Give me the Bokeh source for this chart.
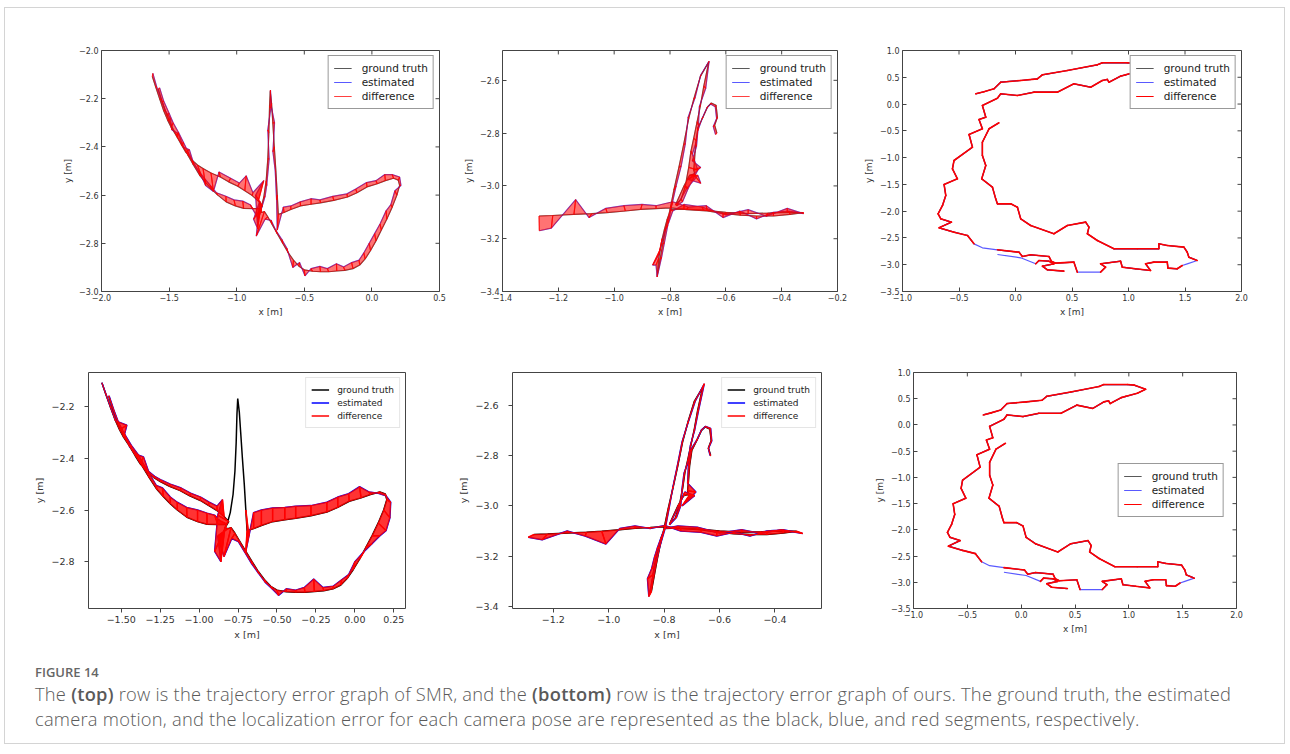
import math
from bokeh.plotting import figure
from bokeh.models import Range1d, FixedTicker, Legend, LegendItem, Div
from bokeh.layouts import row, column
from bokeh.embed import file_html
from bokeh.resources import INLINE

NAN = float("nan")

# ---------------- column 1 : ground truth (shared by plots 1 and 4) ----------------
gt1_x = [-1.624, -1.600, -1.570, -1.540, -1.510, -1.485, -1.450, -1.410, -1.378, -1.330,
         -1.290, -1.249, -1.190, -1.121, -1.060, -0.992, -0.940, -0.885, -0.840, -0.810,
         -0.825, -0.835, -0.815, -0.795, -0.770, -0.740, -0.700, -0.660, -0.620, -0.580,
         -0.540, -0.500, -0.440, -0.380, -0.320, -0.260, -0.200, -0.140, -0.090, -0.050,
         -0.010, 0.030, 0.070, 0.110, 0.150, 0.185, 0.205, 0.195, 0.160, 0.100,
         0.040, -0.036, -0.110, -0.180, -0.282, -0.380, -0.450, -0.528, -0.600, -0.650,
         -0.692, -0.700, -0.710, -0.722, -0.733, -0.742, -0.752, -0.757, -0.762, -0.770,
         -0.782, -0.800, -0.821, -0.880, -0.949, -1.010, -1.078, -1.140, -1.185, -1.230,
         -1.271, -1.320, -1.360, -1.400, -1.440, -1.480, -1.515, -1.550, -1.580]
gt1_y = [-2.108, -2.150, -2.200, -2.250, -2.290, -2.318, -2.350, -2.390, -2.421, -2.455,
         -2.475, -2.490, -2.508, -2.525, -2.545, -2.563, -2.582, -2.602, -2.625, -2.645,
         -2.660, -2.668, -2.672, -2.668, -2.690, -2.720, -2.760, -2.800, -2.838, -2.870,
         -2.895, -2.910, -2.916, -2.918, -2.918, -2.915, -2.912, -2.905, -2.890, -2.865,
         -2.830, -2.790, -2.745, -2.700, -2.650, -2.600, -2.560, -2.538, -2.530, -2.540,
         -2.553, -2.566, -2.590, -2.608, -2.622, -2.632, -2.638, -2.645, -2.660, -2.672,
         -2.680, -2.600, -2.500, -2.400, -2.300, -2.220, -2.169, -2.230, -2.340, -2.450,
         -2.540, -2.610, -2.655, -2.656, -2.655, -2.645, -2.628, -2.600, -2.576, -2.548,
         -2.520, -2.475, -2.435, -2.395, -2.360, -2.315, -2.270, -2.215, -2.160]
# estimated, SMR (plot 1)
est1_x = [-1.620, -1.592, -1.556, -1.528, -1.490, -1.478, -1.430, -1.395, -1.350, -1.318,
          -1.262, -1.230, -1.172, -1.131, -1.045, -0.980, -0.930, -0.880, -0.800, -0.860,
          -0.845, -0.875, -0.830, -0.855, -0.790, -0.745, -0.712, -0.665, -0.630, -0.585,
          -0.535, -0.495, -0.450, -0.385, -0.330, -0.262, -0.210, -0.150, -0.095, -0.060,
          -0.020, 0.020, 0.060, 0.105, 0.140, 0.170, 0.215, 0.205, 0.150, 0.095,
          0.030, -0.040, -0.120, -0.185, -0.290, -0.385, -0.450, -0.530, -0.600, -0.655,
          -0.700, -0.705, -0.715, -0.732, -0.720, -0.745, -0.750, -0.748, -0.770, -0.760,
          -0.778, -0.790, -0.840, -0.900, -0.955, -1.020, -1.080, -1.150, -1.195, -1.240,
          -1.280, -1.325, -1.360, -1.395, -1.430, -1.470, -1.500, -1.540, -1.570]
est1_y = [-2.095, -2.150, -2.205, -2.250, -2.282, -2.330, -2.345, -2.400, -2.412, -2.470,
          -2.520, -2.560, -2.585, -2.504, -2.530, -2.550, -2.520, -2.590, -2.540, -2.600,
          -2.740, -2.700, -2.625, -2.770, -2.700, -2.705, -2.745, -2.785, -2.820, -2.900,
          -2.880, -2.935, -2.905, -2.896, -2.905, -2.885, -2.898, -2.880, -2.870, -2.840,
          -2.800, -2.760, -2.720, -2.665, -2.640, -2.582, -2.560, -2.525, -2.515, -2.515,
          -2.540, -2.548, -2.575, -2.595, -2.605, -2.620, -2.615, -2.628, -2.645, -2.650,
          -2.745, -2.620, -2.500, -2.420, -2.300, -2.230, -2.165, -2.240, -2.330, -2.450,
          -2.560, -2.605, -2.700, -2.640, -2.625, -2.620, -2.605, -2.590, -2.560, -2.530,
          -2.500, -2.460, -2.420, -2.380, -2.340, -2.300, -2.260, -2.210, -2.155]
# estimated, ours (plot 4)
est4_x = [-1.624, -1.598, -1.566, -1.535, -1.464, -1.478, -1.445, -1.400, -1.357, -1.325,
          -1.285, -1.240, -1.185, -1.115, -1.055, -0.990, -0.935, -0.885, -0.850, -0.880,
          -0.900, -0.860, -0.880, -0.840, -0.790, -0.748, -0.705, -0.662, -0.618, -0.575,
          -0.530, -0.490, -0.440, -0.380, -0.325, -0.264, -0.205, -0.140, -0.085, -0.040,
          0.000, 0.060, 0.110, 0.160, 0.200, 0.225, 0.230, 0.200, 0.150, 0.090,
          0.030, -0.040, -0.110, -0.180, -0.282, -0.380, -0.450, -0.528, -0.600, -0.650,
          -0.700, -0.680, NAN, NAN, NAN, NAN, NAN, NAN, NAN, NAN,
          NAN, NAN, -0.870, -0.900, -0.950, -1.010, -1.080, -1.140, -1.185, -1.235,
          -1.275, -1.318, -1.355, -1.392, -1.435, -1.480, -1.515, -1.548, -1.578]
est4_y = [-2.108, -2.152, -2.205, -2.255, -2.272, -2.305, -2.355, -2.385, -2.395, -2.450,
          -2.470, -2.485, -2.500, -2.515, -2.535, -2.550, -2.570, -2.585, -2.560, -2.620,
          -2.760, -2.800, -2.700, -2.780, -2.710, -2.722, -2.765, -2.808, -2.845, -2.880,
          -2.905, -2.930, -2.905, -2.910, -2.900, -2.867, -2.900, -2.895, -2.870, -2.850,
          -2.800, -2.760, -2.730, -2.700, -2.680, -2.630, -2.570, -2.545, -2.535, -2.530,
          -2.510, -2.537, -2.550, -2.570, -2.583, -2.585, -2.590, -2.592, -2.600, -2.610,
          -2.760, -2.700, NAN, NAN, NAN, NAN, NAN, NAN, NAN, NAN,
          NAN, NAN, -2.640, -2.620, -2.612, -2.600, -2.590, -2.570, -2.550, -2.515,
          -2.505, -2.462, -2.425, -2.385, -2.350, -2.305, -2.265, -2.212, -2.158]

# ---------------- column 2 : ground truth (shared by plots 2 and 5) ----------------
gt2_x = [-1.269, -1.220, -1.144, -1.080, -1.025, -0.960, -0.905, -0.850, -0.798, -0.740,
         -0.667, -0.610, -0.548, -0.490, -0.429, -0.370, -0.322, -0.380, -0.450, -0.520,
         -0.600, -0.680, -0.750, -0.798, -0.810, -0.820, -0.828, -0.835, -0.840, -0.846,
         -0.836, -0.826, -0.815, -0.800, -0.786, -0.768, -0.751, -0.733, -0.715, -0.691,
         -0.661, -0.679, -0.691, -0.703, -0.715, -0.725, -0.733, -0.745, -0.760, -0.780,
         -0.750, -0.730, -0.715, -0.710, -0.715, -0.712, -0.708, -0.700, -0.682, -0.665,
         -0.652, -0.635, -0.630, -0.640, -0.632]
gt2_y = [-3.114, -3.112, -3.108, -3.105, -3.101, -3.095, -3.089, -3.086, -3.083, -3.090,
         -3.095, -3.104, -3.111, -3.114, -3.114, -3.108, -3.101, -3.100, -3.103, -3.105,
         -3.100, -3.092, -3.088, -3.090, -3.126, -3.165, -3.200, -3.240, -3.273, -3.341,
         -3.280, -3.220, -3.160, -3.090, -3.015, -2.929, -2.843, -2.745, -2.671, -2.585,
         -2.530, -2.622, -2.696, -2.757, -2.819, -2.868, -2.930, -3.000, -3.050, -3.071,
         -3.000, -2.960, -2.955, -2.960, -2.940, -2.900, -2.840, -2.780, -2.740, -2.700,
         -2.686, -2.695, -2.740, -2.770, -2.800]
est2_x = [-1.268, -1.225, -1.138, -1.090, -1.030, -0.965, -0.900, -0.850, -0.790, -0.735,
          -0.670, -0.610, -0.550, -0.490, -0.430, -0.375, -0.322, -0.380, -0.455, -0.520,
          -0.600, -0.685, -0.750, -0.790, -0.805, -0.818, -0.840, -0.862, -0.850, -0.846,
          -0.830, -0.820, -0.808, -0.795, -0.778, -0.760, -0.745, -0.735, -0.710, -0.690,
          -0.660, -0.672, -0.695, -0.698, -0.705, -0.720, -0.700, -0.735, -0.755, -0.775,
          -0.740, -0.700, -0.690, -0.735, -0.690, -0.720, -0.705, -0.700, -0.685, -0.668,
          -0.655, -0.638, -0.633, -0.645, -0.637]
est2_y = [-3.170, -3.160, -3.052, -3.120, -3.085, -3.075, -3.070, -3.075, -3.060, -3.080,
          -3.075, -3.120, -3.095, -3.125, -3.100, -3.095, -3.105, -3.085, -3.115, -3.090,
          -3.110, -3.080, -3.070, -3.095, -3.140, -3.170, -3.260, -3.300, -3.300, -3.345,
          -3.270, -3.215, -3.150, -3.080, -3.000, -2.925, -2.840, -2.740, -2.665, -2.580,
          -2.528, -2.630, -2.700, -2.770, -2.830, -2.880, -2.940, -3.010, -3.060, -3.075,
          -3.010, -2.960, -2.990, -2.975, -2.930, -2.905, -2.850, -2.790, -2.745, -2.705,
          -2.690, -2.700, -2.745, -2.775, -2.805]
est5_x = [-1.290, -1.240, -1.150, -1.085, -1.010, -0.960, -0.905, -0.850, -0.798, -0.740,
          -0.667, -0.610, -0.548, -0.490, -0.429, -0.370, -0.300, -0.380, -0.450, -0.520,
          -0.600, -0.680, -0.750, -0.798, -0.812, -0.825, -0.835, -0.845, -0.860, -0.855,
          -0.840, -0.830, -0.815, -0.795, -0.782, -0.768, -0.752, -0.735, -0.713, -0.688,
          -0.655, -0.676, -0.690, -0.705, -0.712, -0.728, -0.735, -0.740, -0.755, -0.780,
          -0.745, -0.725, -0.690, -0.735, -0.685, -0.715, -0.712, -0.705, -0.680, -0.665,
          -0.650, -0.632, -0.628, -0.640, -0.634]
est5_y = [-3.125, -3.135, -3.100, -3.120, -3.152, -3.090, -3.080, -3.090, -3.078, -3.100,
          -3.105, -3.120, -3.105, -3.120, -3.100, -3.095, -3.110, -3.095, -3.110, -3.095,
          -3.108, -3.085, -3.080, -3.090, -3.130, -3.170, -3.205, -3.250, -3.290, -3.360,
          -3.280, -3.225, -3.160, -3.085, -3.010, -2.925, -2.840, -2.745, -2.668, -2.585,
          -2.515, -2.622, -2.700, -2.760, -2.820, -2.870, -2.930, -3.000, -3.045, -3.075,
          -2.995, -2.945, -2.960, -3.000, -2.945, -2.910, -2.835, -2.780, -2.735, -2.698,
          -2.684, -2.692, -2.742, -2.772, -2.800]

# ---------------- column 3 : estimated track (plots 3 and 6, coincides with ground truth) ----
track3_x = [-0.352, -0.280, -0.190, -0.131, 0.046, 0.194, 0.238, 0.459, 0.724, 0.768,
            0.989, 1.048, 1.156, 1.079, 0.974, 0.930, 0.827, 0.812, 0.768, 0.665,
            0.517, 0.370, 0.164, 0.017, -0.131, -0.160, -0.293, -0.263, -0.323, -0.293,
            -0.411, -0.381, -0.544, -0.558, -0.514, -0.632, -0.617, -0.646, -0.685, -0.661,
            -0.567, -0.676, -0.544, -0.425, -0.367, -0.293, -0.160, 0.031, 0.061, 0.134,
            0.296, 0.317, 0.355, 0.517, 0.547, 0.650, 0.753, 0.797, 0.753, 0.930,
            0.945, 1.063, 1.195, 1.151, 1.225, 1.343, 1.349, 1.431, 1.476, 1.520,
            1.608, 1.534, 1.520, 1.490, 1.343, 1.269, 1.269, 1.078, 0.871, 0.724,
            0.636, 0.650, 0.621, 0.459, 0.340, 0.134, 0.046, 0.017, -0.042, -0.160,
            -0.175, -0.204, -0.299, -0.263, -0.293, -0.293, -0.234, -0.146, NAN, -0.160,
            0.046, 0.179, 0.208, 0.296, 0.340, 0.238, 0.282, 0.429]
track3_y = [0.191, 0.230, 0.285, 0.408, 0.440, 0.471, 0.546, 0.627, 0.733, 0.770,
            0.770, 0.760, 0.680, 0.605, 0.546, 0.521, 0.408, 0.460, 0.440, 0.315,
            0.378, 0.222, 0.222, 0.160, 0.191, 0.110, -0.027, -0.245, -0.288, -0.462,
            -0.568, -0.805, -1.054, -1.209, -1.396, -1.502, -1.707, -1.894, -2.049, -2.143,
            -2.205, -2.311, -2.392, -2.454, -2.610, -2.684, -2.721, -2.766, -2.846, -2.815,
            -2.846, -2.934, -2.971, -2.952, -3.139, -3.139, -3.139, -3.046, -2.983, -2.934,
            -3.046, -3.076, -3.108, -2.983, -2.952, -2.952, -3.064, -3.076, -3.014, -2.983,
            -2.921, -2.859, -2.766, -2.672, -2.641, -2.610, -2.703, -2.703, -2.703, -2.547,
            -2.422, -2.299, -2.205, -2.267, -2.422, -2.267, -2.143, -1.926, -1.863, -1.863,
            -1.770, -1.552, -1.396, -1.147, -0.960, -0.712, -0.462, -0.350, NAN, -2.809,
            -2.871, -2.983, -2.921, -2.934, -2.983, -3.027, -3.095, -3.120]
# poses of column 3 without a ground-truth match
no_gt3 = [45, 55, 69, 100]
gt3_x = [NAN if i in no_gt3 else v for i, v in enumerate(track3_x)]
gt3_y = [NAN if i in no_gt3 else v for i, v in enumerate(track3_y)]

# ---------------- ticks ----------------
M = "\u2212"
xt1 = [-2.0, -1.5, -1.0, -0.5, 0.0, 0.5]
xl1 = [M + "2.0", M + "1.5", M + "1.0", M + "0.5", "0.0", "0.5"]
yt1 = [-3.0, -2.8, -2.6, -2.4, -2.2, -2.0]
yl1 = [M + "3.0", M + "2.8", M + "2.6", M + "2.4", M + "2.2", M + "2.0"]
xt2 = [-1.4, -1.2, -1.0, -0.8, -0.6, -0.4, -0.2]
xl2 = [M + "1.4", M + "1.2", M + "1.0", M + "0.8", M + "0.6", M + "0.4", M + "0.2"]
yt2 = [-3.4, -3.2, -3.0, -2.8, -2.6]
yl2 = [M + "3.4", M + "3.2", M + "3.0", M + "2.8", M + "2.6"]
xt3 = [-1.0, -0.5, 0.0, 0.5, 1.0, 1.5, 2.0]
xl3 = [M + "1.0", M + "0.5", "0.0", "0.5", "1.0", "1.5", "2.0"]
yt3 = [-3.5, -3.0, -2.5, -2.0, -1.5, -1.0, -0.5, 0.0, 0.5, 1.0]
yl3 = [M + "3.5", M + "3.0", M + "2.5", M + "2.0", M + "1.5", M + "1.0", M + "0.5", "0.0", "0.5", "1.0"]
xt4 = [-1.5, -1.25, -1.0, -0.75, -0.5, -0.25, 0.0, 0.25]
xl4 = [M + "1.50", M + "1.25", M + "1.00", M + "0.75", M + "0.50", M + "0.25", "0.00", "0.25"]
yt4 = [-2.8, -2.6, -2.4, -2.2]
yl4 = [M + "2.8", M + "2.6", M + "2.4", M + "2.2"]
xt5 = [-1.2, -1.0, -0.8, -0.6, -0.4]
xl5 = [M + "1.2", M + "1.0", M + "0.8", M + "0.6", M + "0.4"]
yt5 = [-3.4, -3.2, -3.0, -2.8, -2.6]
yl5 = [M + "3.4", M + "3.2", M + "3.0", M + "2.8", M + "2.6"]

LEGEND_LABELS = ["ground truth", "estimated", "difference"]

# top row, SMR (matplotlib classic look)
CLASSIC = dict(tick_fs="8px", lab_fs="9px", leg_fs="10.5px", lw=1.2, alpha=0.65, qa=0.55,
               qlw=0.6, red_alpha=0.75, blue_on_top=False, tin=4, tout=0, leg_border="#333333",
               classic=True, ystand=3, xstand=2, leg_h=14, leg_gw=18, leg_st=10, leg_pad=5)
# classic look, trajectory of column 3 (estimate ~ ground truth)
CLASSIC3 = dict(CLASSIC, qlw=1.6, red_alpha=1.0, blue_on_top=False)
# bottom row, ours (matplotlib 2 look)
MODERN = dict(tick_fs="9.5px", lab_fs="9.5px", leg_fs="9px", lw=1.5, alpha=1.0, qa=0.8,
              qlw=0.8, red_alpha=1.0, blue_on_top=False, tin=0, tout=4, leg_border="#cccccc",
              classic=False, ystand=10, xstand=3, leg_h=13, leg_gw=18, leg_st=8, leg_pad=5)


def make_plot(gx, gy, ex, ey, xr, yr, xt, xl, yt, yl, W, H, bl, br, bt, bb, st,
              loc="top_right", lmargin=5):
    p = figure(width=W, height=H, x_range=Range1d(*xr), y_range=Range1d(*yr),
               output_backend="svg", toolbar_location=None,
               min_border_left=bl, min_border_right=br, min_border_top=bt, min_border_bottom=bb,
               x_axis_label="x [m]", y_axis_label="y [m]")
    p.grid.visible = False
    p.outline_line_color = "#444444"
    p.outline_line_width = 1
    p.background_fill_color = "white"
    p.border_fill_color = "white"

    for ax, ticks, labels, stand in ((p.xaxis[0], xt, xl, st["xstand"]), (p.yaxis[0], yt, yl, st["ystand"])):
        ax.ticker = FixedTicker(ticks=ticks)
        ax.major_label_overrides = dict(zip(ticks, labels))
        ax.major_label_text_font = "DejaVu Sans"
        ax.major_label_text_font_size = st["tick_fs"]
        ax.major_label_text_color = "#333333"
        ax.axis_label_text_font = "DejaVu Sans"
        ax.axis_label_text_font_size = st["lab_fs"]
        ax.axis_label_text_font_style = "normal"
        ax.axis_label_text_color = "#333333"
        ax.axis_label_standoff = 3
        ax.major_label_standoff = stand
        ax.axis_line_color = None
        ax.major_tick_in = st["tin"]
        ax.major_tick_out = st["tout"]
        ax.major_tick_line_color = "#444444"
        ax.minor_tick_in = 0
        ax.minor_tick_out = 0

    if st["classic"]:
        # inward 4 px ticks on the top and right frame edges (matplotlib classic style)
        fw, fh = W - bl - br, H - bt - bb
        dy = 4.0 * (yr[1] - yr[0]) / fh
        dx = 4.0 * (xr[1] - xr[0]) / fw
        p.segment(x0=xt, y0=[yr[1]] * len(xt), x1=xt, y1=[yr[1] - dy] * len(xt),
                  line_color="#444444", line_width=1)
        p.segment(x0=[xr[1]] * len(yt), y0=yt, x1=[xr[1] - dx] * len(yt), y1=yt,
                  line_color="#444444", line_width=1)

    def ok(i):
        return not (math.isnan(gx[i]) or math.isnan(gy[i]) or math.isnan(ex[i]) or math.isnan(ey[i]))

    qx, qy, sx, sy = [], [], [], []
    for i in range(len(gx)):
        if ok(i):
            sx.append([gx[i], ex[i]])
            sy.append([gy[i], ey[i]])
        if i + 1 < len(gx) and ok(i) and ok(i + 1):
            qx.append([gx[i], gx[i + 1], ex[i + 1], ex[i]])
            qy.append([gy[i], gy[i + 1], ey[i + 1], ey[i]])

    r_gt = p.line(gx, gy, line_color="black", line_width=st["lw"], line_alpha=st["alpha"])
    if not st["blue_on_top"]:
        r_est = p.line(ex, ey, line_color="#0000ff", line_width=st["lw"], line_alpha=st["alpha"])
    p.patches(qx, qy, fill_color="#ff0000", fill_alpha=st["qa"], line_color="#ff0000",
              line_width=st["qlw"], line_alpha=st["red_alpha"] if st["qlw"] > 0 else 0,
              line_join="round")
    r_diff = p.multi_line(sx, sy, line_color="#ff0000", line_width=st["lw"], line_alpha=st["red_alpha"])
    if st["blue_on_top"]:
        r_est = p.line(ex, ey, line_color="#0000ff", line_width=st["lw"] * 0.8, line_alpha=st["alpha"])

    legend = Legend(items=[LegendItem(label=LEGEND_LABELS[0], renderers=[r_gt]),
                           LegendItem(label=LEGEND_LABELS[1], renderers=[r_est]),
                           LegendItem(label=LEGEND_LABELS[2], renderers=[r_diff])],
                    location=loc, margin=lmargin, padding=st["leg_pad"], spacing=0,
                    label_text_font="DejaVu Sans", label_text_font_size=st["leg_fs"],
                    label_text_color="#222222",
                    label_height=st["leg_h"], glyph_height=st["leg_h"], glyph_width=st["leg_gw"],
                    label_standoff=st["leg_st"], border_line_color=st["leg_border"],
                    border_line_width=1, background_fill_alpha=1.0)
    p.add_layout(legend)
    return p


p1 = make_plot(gt1_x, gt1_y, est1_x, est1_y, (-2.0, 0.5), (-3.0, -2.0), xt1, xl1, yt1, yl1,
               450, 322, 96, 16, 42, 39, CLASSIC)
p2 = make_plot(gt2_x, gt2_y, est2_x, est2_y, (-1.4, -0.2), (-3.4, -2.487), xt2, xl2, yt2, yl2,
               397, 322, 47, 15, 38, 39, CLASSIC)
p3 = make_plot(gt3_x, gt3_y, track3_x, track3_y, (-1.0, 2.0), (-3.5, 1.0), xt3, xl3, yt3, yl3,
               432, 322, 50, 43, 42, 39, CLASSIC3, lmargin=5)
p4 = make_plot(gt1_x, gt1_y, est4_x, est4_y, (-1.71, 0.325), (-2.981, -2.068), xt4, xl4, yt4, yl4,
               450, 320, 83, 50, 42, 42, MODERN)
p5 = make_plot(gt2_x, gt2_y, est5_x, est5_y, (-1.347, -0.232), (-3.408, -2.470), xt5, xl5, yt5, yl5,
               397, 320, 49, 31, 42, 42, MODERN)
p6 = make_plot(gt3_x, gt3_y, track3_x, track3_y, (-1.0, 2.0), (-3.5, 1.0), xt3, xl3, yt3, yl3,
               432, 320, 61, 48, 42, 38, CLASSIC3, loc="center_right", lmargin=12)

caption = Div(
    text=(
        '<div style="font-family:\'Open Sans\',sans-serif;color:#666666;font-size:13px;'
        'font-weight:600;line-height:18px;">FIGURE 14</div>'
        '<div style="font-family:\'Open Sans\',sans-serif;color:#5a5a5a;font-size:18.3px;'
        'font-weight:300;letter-spacing:0.24px;line-height:25px;white-space:nowrap;">'
        'The <b style="font-weight:600">(top)</b> row is the trajectory error graph of SMR, and the '
        '<b style="font-weight:600">(bottom)</b> row is '
        'the trajectory error graph of ours. The ground truth, the estimated<br>'
        'camera motion, and the localization error for each camera pose are represented as the '
        'black, blue, and red segments, respectively.</div>'
    ),
    width=1240, height=80, margin=(13, 0, 0, 30),
)

layout = column(row(p1, p2, p3), row(p4, p5, p6), caption,
                margin=(7, 0, 0, 4), styles={"border": "1px solid #d4d4d4"})

with open("out.html", "w") as f:
    f.write(file_html(layout, INLINE))
